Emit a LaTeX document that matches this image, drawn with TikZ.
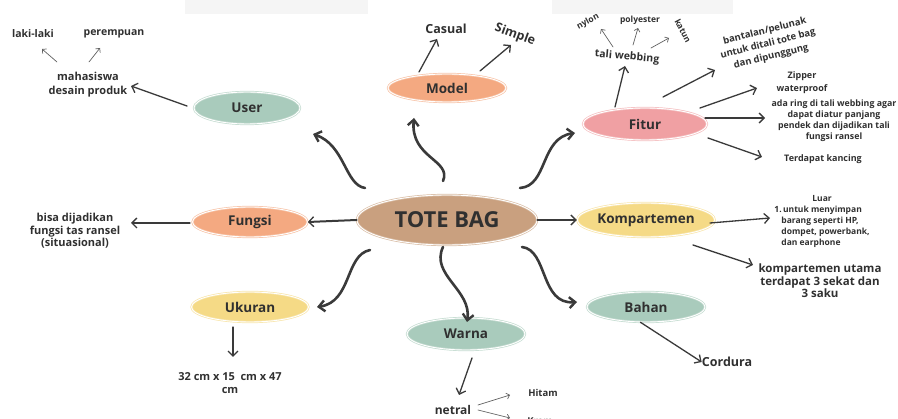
\documentclass[tikz,border=0pt]{standalone}
\usepackage{fontspec}
\setmainfont{Open Sans}
\usetikzlibrary{shapes.geometric,arrows.meta}
\definecolor{tan}{HTML}{C9A07F}
\definecolor{orng}{HTML}{F4A981}
\definecolor{sage}{HTML}{A9CBBC}
\definecolor{pinky}{HTML}{F0A0A3}
\definecolor{yell}{HTML}{F5DA86}
\definecolor{ink}{HTML}{303030}
\definecolor{arw}{HTML}{3A3A3A}
\definecolor{pale}{HTML}{F5F5F5}
\tikzset{
  bub/.style={ellipse, fill=#1, draw=#1!70!white, double=white, double distance=0.9pt, line width=0.7pt, inner sep=0pt, text=ink, font=\bfseries\fontsize{13.5}{15}\selectfont},
  txt/.style={text=ink, align=center, inner sep=0pt, font=\bfseries\fontsize{#1}{\fpeval{#1*1.25}}\selectfont},
  big/.style={draw=arw, line width=2.6pt, line cap=round, -{Straight Barb[length=6pt,width=11pt,line width=2.4pt]}},
  mid/.style={draw=arw, line width=1.3pt, line cap=round, -{Straight Barb[length=5pt,width=10pt,line width=1.3pt]}},
  thin/.style={draw=arw!80!white, line width=0.7pt, line cap=round, -{Straight Barb[length=3pt,width=6pt,line width=0.7pt]}},
}
\begin{document}
\begin{tikzpicture}[x=1pt,y=-1pt]
\useasboundingbox (0,0) rectangle (898,419);
\fill[pale] (185,0) rectangle (368,14);
\fill[pale] (552,0) rectangle (733,14);

% main nodes
\node[bub=tan, minimum width=180pt, minimum height=50pt, font=\bfseries\fontsize{22}{26}\selectfont] (tote) at (447,220) {TOTE BAG};
\node[bub=sage, minimum width=106pt, minimum height=32pt] (user) at (247,108) {User};
\node[bub=orng, minimum width=118pt, minimum height=28pt] (model) at (447,88) {Model};
\node[bub=pinky, minimum width=124pt, minimum height=32pt] (fitur) at (645,124) {Fitur};
\node[bub=orng, minimum width=115pt, minimum height=30pt] (fungsi) at (250,222) {Fungsi};
\node[bub=yell, minimum width=122pt, minimum height=34pt] (komp) at (646,220) {Kompartemen};
\node[bub=yell, minimum width=117pt, minimum height=30pt] (ukuran) at (250,307) {Ukuran};
\node[bub=sage, minimum width=118pt, minimum height=32pt] (warna) at (466,334) {Warna};
\node[bub=sage, minimum width=118pt, minimum height=30pt] (bahan) at (646,307) {Bahan};

% main curved connectors
\coordinate (tu) at (365,188); \coordinate (eu) at (313,134);
\coordinate (tm) at (443,181); \coordinate (em) at (414,118);
\coordinate (tf) at (520,188); \coordinate (ef) at (575,133);
\coordinate (tk) at (370,250); \coordinate (ek) at (317,307);
\coordinate (tw) at (443,247); \coordinate (ew) at (467,322);
\coordinate (tb) at (522,247); \coordinate (eb) at (577,302);
\draw[big] (tu) .. controls (345,185) and (345,145) .. (eu);
\draw[big] (tm) .. controls (452,160) and (410,158) .. (em);
\draw[big] (tf) .. controls (548,186) and (540,138) .. (ef);
\draw[big] (tk) .. controls (345,255) and (352,302) .. (ek);
\draw[big] (tw) .. controls (430,275) and (472,290) .. (ew);
\draw[big] (tb) .. controls (548,250) and (540,305) .. (eb);
\draw[mid, line width=2pt] (tote.west) -- (fungsi.east);
\draw[mid, line width=2pt] (tote.east) -- (komp.west);

% User branch
\node[txt=11, font=\bfseries\fontsize{11}{14}\selectfont] (mhs) at (88,85) {mahasiswa\\desain produk};
\node[txt=10.5] (laki) at (33,34) {laki-laki};
\node[txt=10.5] (prp) at (114,34) {perempuan};
\coordinate (us) at (187,106);
\coordinate (ue) at (131,86);
\draw[mid] (us) -- (ue);
\coordinate (l1) at (57,62); \coordinate (l2) at (42,49);
\coordinate (p1) at (89,62); \coordinate (p2) at (100,48);
\draw[thin] (l1) -- (l2);
\draw[thin] (p1) -- (p2);

% Model branch
\node[txt=12.5] (casual) at (446,29) {Casual};
\node[txt=12.5, rotate=-20] (simple) at (515,35) {Simple};
\coordinate (mc1) at (419,72); \coordinate (mc2) at (437,39);
\coordinate (ms1) at (480,71); \coordinate (ms2) at (511,45);
\draw[mid] (mc1) -- (mc2);
\draw[mid] (ms1) -- (ms2);

% Fitur branch
\node[txt=10.5, rotate=-5] (tali) at (627,57) {tali webbing};
\node[txt=8.5, rotate=28] (nylon) at (588,22) {nylon};
\node[txt=8.5] (poly) at (640,20) {polyester};
\node[txt=8.5, rotate=-62] (katun) at (683,31) {katun};
\coordinate (n1) at (613,47); \coordinate (n2) at (601,29);
\coordinate (o1) at (633,45); \coordinate (o2) at (638,28);
\coordinate (k1) at (651,48); \coordinate (k2) at (669,38);
\draw[thin] (n1) -- (n2);
\draw[thin] (o1) -- (o2);
\draw[thin] (k1) -- (k2);
\coordinate (ft1) at (615,107); \coordinate (ft2) at (625,66);
\draw[mid] (ft1) -- (ft2);
\node[txt=9.5, rotate=14, font=\bfseries\fontsize{9.5}{13}\selectfont] (bant) at (768,44) {bantalan/pelunak\\untuk ditali tote bag\\dan dipunggung};
\coordinate (fb1) at (663,97); \coordinate (fb2) at (715,70);
\draw[mid] (fb1) -- (fb2);
\node[txt=9, font=\bfseries\fontsize{9}{13}\selectfont] (zip) at (802,83) {Zipper\\waterproof};
\coordinate (fz1) at (700,108); \coordinate (fz2) at (757,88);
\draw[mid] (fz1) -- (fz2);
\node[txt=8.8, font=\bfseries\fontsize{8.8}{11}\selectfont] (ring) at (834,121) {ada ring di tali webbing agar\\dapat diatur panjang\\pendek dan dijadikan tali\\fungsi ransel};
\coordinate (fr1) at (705,118); \coordinate (fr2) at (765,118);
\draw[mid] (fr1) -- (fr2);
\node[txt=9] (kanc) at (823,159) {Terdapat kancing};
\coordinate (fk1) at (708,138); \coordinate (fk2) at (762,157);
\draw[mid] (fk1) -- (fk2);

% Kompartemen branch
\node[txt=8.5, align=left, font=\bfseries\fontsize{8.5}{11}\selectfont] (luar) at (822,221) {\hspace*{38pt}Luar\\1.\,untuk menyimpan\\\hspace*{7pt}barang seperti HP,\\\hspace*{7pt}dompet, powerbank,\\\hspace*{7pt}dan earphone};
\coordinate (kl1) at (710,223); \coordinate (kl2) at (770,218);
\draw[mid] (kl1) -- (kl2);
\node[txt=11.5, font=\bfseries\fontsize{11.5}{12.5}\selectfont] (utama) at (820,281) {kompartemen utama\\terdapat 3 sekat dan\\3 saku};
\coordinate (ku1) at (693,245); \coordinate (ku2) at (753,265);
\draw[mid] (ku1) -- (ku2);

% Bahan branch
\node[txt=12.5] (cordura) at (727,362) {Cordura};
\draw[mid] (bahan.250) -- (cordura.west);

% Fungsi branch
\node[txt=11, font=\bfseries\fontsize{11}{12.5}\selectfont] (bisa) at (75,231) {bisa dijadikan\\fungsi tas ransel\\(situasional)};
\coordinate (fg1) at (190,223); \coordinate (fg2) at (131,223);
\draw[mid] (fg1) -- (fg2);

% Ukuran branch
\node[txt=11, font=\bfseries\fontsize{11}{13}\selectfont] (size) at (230,383) {32 cm x 15~ cm x 47\\cm};
\coordinate (uk1) at (233,327); \coordinate (uk2) at (233,357);
\draw[mid] (uk1) -- (uk2);

% Warna branch
\node[txt=12] (netral) at (453,410) {netral};
\coordinate (w1) at (472,358); \coordinate (w2) at (459,395);
\draw[mid] (w1) -- (w2);
\node[txt=9.5] (hitam) at (543,393) {Hitam};
\node[txt=9.5] (krem) at (540,421) {Krem};
\coordinate (h1) at (478,405); \coordinate (h2) at (510,395);
\coordinate (c1) at (478,410); \coordinate (c2) at (510,418);
\draw[thin] (h1) -- (h2);
\draw[thin] (c1) -- (c2);
\end{tikzpicture}
\end{document}
